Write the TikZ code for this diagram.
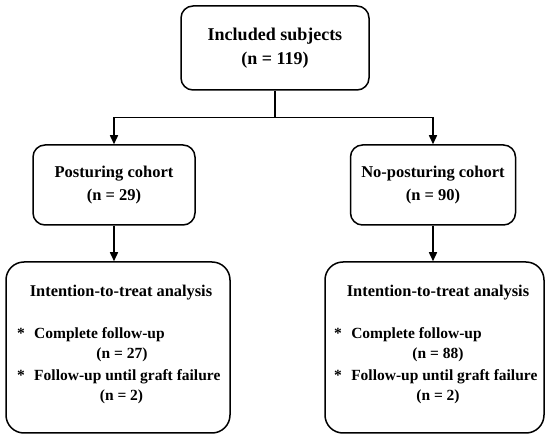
\documentclass[tikz,border=0pt]{standalone}
\usepackage{fontspec}
\setmainfont{Liberation Serif}
\usetikzlibrary{arrows.meta}

\begin{document}
\begin{tikzpicture}[x=1pt, y=-1pt,
    box/.style={draw, line width=1.5pt, rounded corners=12pt, align=center,
      font=\fontsize{16.5}{23}\selectfont\bfseries},
    txt/.style={inner sep=0pt, font=\fontsize{15.5}{20}\selectfont\bfseries},
    arr/.style={line width=1.5pt, -{Triangle[length=9pt, width=8pt]}}]
    \useasboundingbox (0,0) rectangle (550,441);

    % Top box
    \node[box, minimum width=188pt, minimum height=84pt,
      font=\fontsize{18}{24}\selectfont\bfseries]
      (incl) at (275,48) {Included subjects\\(n = 119)};

    % Cohorts
    \node[box, minimum width=162pt, minimum height=80pt]
      (post) at (114,185) {Posturing cohort\\(n = 29)};
    \node[box, minimum width=165pt, minimum height=80pt]
      (nopost) at (433,185) {No-posturing cohort\\(n = 90)};

    % Analysis boxes
    \node[box, rounded corners=18pt, minimum width=224pt, minimum height=171pt]
      (itl) at (118,347.5) {};
    \node[box, rounded corners=18pt, minimum width=219pt, minimum height=171pt]
      (itr) at (434.5,347.5) {};

    % Left analysis text
    \node[txt, font=\fontsize{16.4}{20}\selectfont\bfseries]
      (itlt) at (121,293) {Intention-to-treat analysis};
    \node[txt, anchor=west] (itla) at (17,335) {*\hspace{0.6em}Complete follow-up};
    \node[txt] (itln) at (122,355) {(n = 27)};
    \node[txt, anchor=west] (itlb) at (17,377) {*\hspace{0.6em}Follow-up until graft failure};
    \node[txt] (itlm) at (121.5,397) {(n = 2)};

    % Right analysis text
    \node[txt, font=\fontsize{16.4}{20}\selectfont\bfseries]
      (itrt) at (438,293) {Intention-to-treat analysis};
    \node[txt, anchor=west] (itra) at (334,335) {*\hspace{0.6em}Complete follow-up};
    \node[txt] (itrn) at (438,355) {(n = 88)};
    \node[txt, anchor=west] (itrb) at (334,377) {*\hspace{0.6em}Follow-up until graft failure};
    \node[txt] (itrm) at (438,397) {(n = 2)};

    % Connectors
    \draw[line width=1.5pt] (incl.south) -- ++(0,27) coordinate (split);
    \draw[arr] (split) -| (post.north);
    \draw[arr] (split) -| (nopost.north);
    \draw[arr] (post.south) -- (post.south |- itl.north);
    \draw[arr] (nopost.south) -- (nopost.south |- itr.north);
  \end{tikzpicture}
\end{document}
